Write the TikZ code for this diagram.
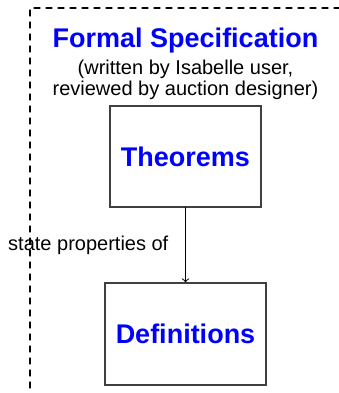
\documentclass[tikz,border=0pt]{standalone}
\usepackage{fontspec}
\setmainfont{Liberation Sans}
\definecolor{headblue}{RGB}{0,0,255}
\tikzset{
  box/.style={draw=black!75,line width=0.6pt,fill=white},
  head/.style={text=headblue,font=\fontsize{13.5}{15}\selectfont\bfseries},
}
\begin{document}
\begin{tikzpicture}[x=0.5pt,y=-0.5pt,font=\fontsize{10}{9}\selectfont,line cap=round,>=to]
		\useasboundingbox (0,0) rectangle (339,393);
		\draw[dashed,line width=0.55pt] (30,400)--(30,8)--(345,8);
		\node[head,anchor=base,inner sep=0] (title) at (185.5,47) {Formal Specification};
		\node[anchor=north,align=center,inner sep=0] (sub) at (185.5,60) {(written by Isabelle user,\\reviewed by auction designer)};
		\node[box,head,minimum width=75.5pt,minimum height=50.5pt] (thm) at (185.5,156.5) {Theorems};
		\node[box,head,minimum width=80.5pt,minimum height=51pt] (defs) at (185.5,334) {Definitions};
		\draw[->,line width=0.5pt] (thm)--(defs) node[midway,left=5pt]{state properties of};
		\end{tikzpicture}
\end{document}
